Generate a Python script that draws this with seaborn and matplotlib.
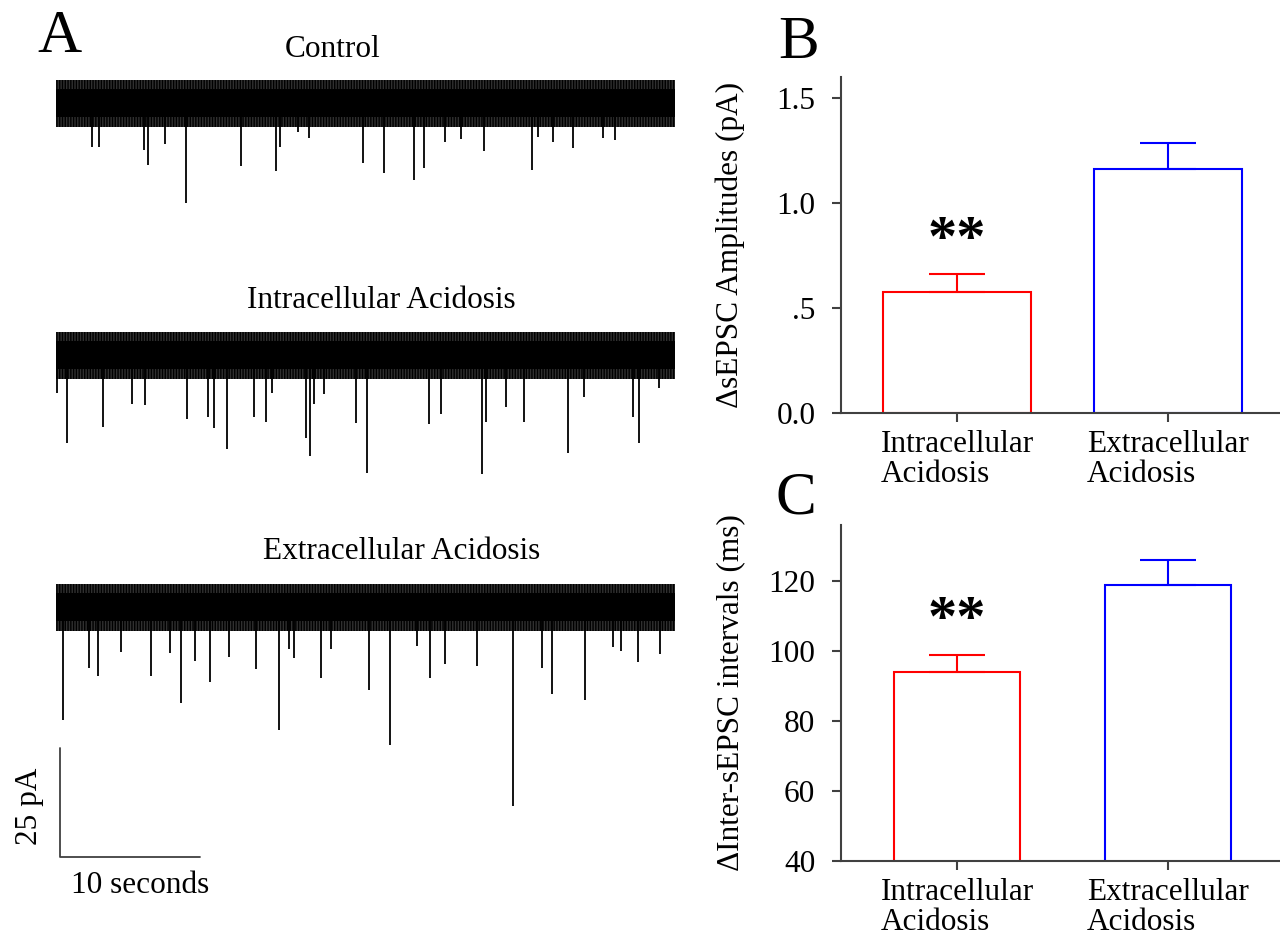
import numpy as np
import pandas as pd
import matplotlib
matplotlib.use('Agg')
import matplotlib.pyplot as plt
import seaborn as sns

# ==============================================================================
# DATA
# ==============================================================================
groups = ['Intracellular\nAcidosis', 'Extracellular\nAcidosis']
bar_colors = ['#ff0000', '#0000ff']

# B: change in sEPSC amplitude (pA), mean and SEM
amp_mean = [0.576, 1.162]
amp_sem = [0.086, 0.124]
amp_ticks = [0.0, 0.5, 1.0, 1.5]
amp_ticklabels = ['0.0', '.5', '1.0', '1.5']

# C: change in inter-sEPSC interval (ms), mean and SEM
ivl_mean = [94.0, 119.0]
ivl_sem = [5.0, 7.0]
ivl_ticks = [40, 60, 80, 100, 120]

# A: sEPSC events in each trace -> time from trace start (s), depth below baseline (pA)
ctrl_times = [2.57, 3.07, 6.29, 6.57, 7.79, 9.29, 13.2, 15.7, 16.0, 17.3, 18.1, 21.9,
              23.4, 25.6, 26.3, 27.8, 28.9, 30.6, 34.0, 34.4, 35.5, 36.9, 39.1, 39.9]
ctrl_depth = [10.1, 10.1, 10.8, 14.2, 9.4, 22.9, 14.4, 15.6, 10.1, 6.7, 8.0, 13.8,
              16.1, 17.7, 14.9, 8.9, 8.3, 11.0, 15.4, 7.8, 8.9, 10.3, 8.0, 8.5]

intra_times = [0.07, 0.79, 3.36, 5.43, 6.36, 9.36, 10.86, 11.29, 12.21, 14.14, 15.0,
               15.43, 17.86, 18.14, 18.43, 19.14, 21.43, 22.21, 26.64, 27.5, 30.43,
               30.71, 32.14, 33.43, 36.57, 37.71, 41.21, 41.64, 43.07]
intra_depth = [8.7, 20.2, 16.5, 11.2, 11.5, 14.7, 14.2, 16.7, 21.6, 14.2, 15.4,
               8.7, 19.0, 23.2, 11.2, 8.9, 15.6, 27.1, 15.8, 13.5, 27.3,
               15.4, 11.9, 15.4, 22.5, 9.6, 14.2, 20.2, 7.6]

extra_times = [0.5, 2.36, 3.0, 4.64, 6.79, 8.14, 8.93, 9.93, 11.0, 12.36, 14.29, 15.93,
               16.64, 17.0, 18.93, 19.64, 22.36, 23.86, 25.79, 26.71, 27.79, 30.07,
               32.64, 34.71, 35.43, 37.79, 39.79, 40.36, 41.57, 43.14]
extra_depth = [25.9, 14.0, 15.8, 10.3, 15.8, 10.6, 22.0, 12.4, 17.2, 11.5, 14.2, 28.2,
               9.6, 11.7, 16.3, 9.6, 19.0, 31.7, 8.9, 16.3, 13.1, 13.5,
               45.6, 14.0, 20.0, 21.3, 9.2, 10.1, 12.6, 10.8]

trace_titles = ['Control', 'Intracellular Acidosis', 'Extracellular Acidosis']
scale_pA = 25
scale_s = 10

# ==============================================================================
# FIGURE
# ==============================================================================
sns.set_style('ticks')
plt.rcParams['font.family'] = ['Liberation Serif', 'DejaVu Serif']
plt.rcParams['hatch.linewidth'] = 1.0
plt.rcParams['text.color'] = 'black'
plt.rcParams['axes.labelcolor'] = 'black'
plt.rcParams['xtick.labelcolor'] = 'black'
plt.rcParams['ytick.labelcolor'] = 'black'

W, H = 1280, 939
fig = plt.figure(figsize=(W / 100, H / 100), dpi=100)
fx = lambda px: px / W
fy = lambda py: 1 - py / H

TXT = 22.5
AXC = '#404040'

# --- Panel A: traces (x in seconds, y in pA) ---
px_per_s = 14.0
px_per_pA = 4.36
ax_a = fig.add_axes([0, 0, 700 / W, 1])
ax_a.set_xlim(0, 700 / px_per_s)
ax_a.set_ylim(0, H / px_per_pA)
ax_a.axis('off')

trace_start = 4.0
trace_len = 44.2
baselines = [(H - 103) / px_per_pA, (H - 355) / px_per_pA, (H - 607) / px_per_pA]
traces = [(ctrl_times, ctrl_depth), (intra_times, intra_depth), (extra_times, extra_depth)]
title_pos = [(333, 57), (381, 308), (402, 559)]

for base, (times, depths), title, (tx, ty) in zip(baselines, traces, trace_titles, title_pos):
    t0, t1 = trace_start, trace_start + trace_len
    # noise band: fuzzy outer envelope + solid core
    ax_a.fill_between([t0, t1], base - 5.4, base + 5.3, facecolor='#303030',
                      edgecolor='black', hatch='||||||', lw=0)
    ax_a.fill_between([t0, t1], base - 3.2, base + 3.2, color='black', lw=0)
    ax_a.vlines(t0 + np.asarray(times), base - np.asarray(depths), base,
                color='black', lw=1.3)
    fig.text(fx(tx), fy(ty), title, ha='center', va='baseline', fontsize=TXT)

# scale bar
sb_x = 60 / px_per_s
sb_y = (H - 857) / px_per_pA
ax_a.plot([sb_x, sb_x, sb_x + scale_s], [sb_y + scale_pA, sb_y, sb_y], color=AXC, lw=1.3)
fig.text(fx(30), fy(806), f'{scale_pA} pA', rotation=90, ha='center', va='center', fontsize=TXT)
fig.text(fx(140), fy(893), f'{scale_s} seconds', ha='center', va='baseline', fontsize=TXT)

# panel letters
fig.text(fx(37), fy(52), 'A', ha='left', va='baseline', fontsize=44)
fig.text(fx(778), fy(58), 'B', ha='left', va='baseline', fontsize=44)
fig.text(fx(775), fy(513), 'C', ha='left', va='baseline', fontsize=44)


def bar_panel(ax, means, sems, width, ylim, ticks, ticklabels, ylabel, star_y):
    df = pd.DataFrame({'group': groups, 'value': means})
    sns.barplot(data=df, x='group', y='value', hue='group', palette=bar_colors,
                fill=False, width=width, linewidth=1.5, errorbar=None,
                legend=False, ax=ax)
    for i, (m, s, c) in enumerate(zip(means, sems, bar_colors)):
        ax.errorbar(i, m, yerr=[[0], [s]], fmt='none', ecolor=c,
                    elinewidth=1.5, capsize=20.5, capthick=1.5)
    ax.text(0, star_y, '**', ha='center', va='center', fontsize=42, fontweight='bold')
    ax.set_xlim(-0.55, 1.53)
    ax.set_ylim(*ylim)
    ax.set_yticks(ticks)
    ax.set_yticklabels(ticklabels)
    ax.set_xlabel('')
    ax.set_ylabel(ylabel, fontsize=TXT)
    ax.yaxis.set_label_coords((745 - 841) / 439, 0.5)
    for side in ['top', 'right']:
        ax.spines[side].set_visible(False)
    for side in ['left', 'bottom']:
        ax.spines[side].set_color(AXC)
        ax.spines[side].set_linewidth(1.5)
    ax.tick_params(axis='both', direction='out', length=6.5, width=1.5, color=AXC,
                   labelsize=TXT, labelcolor='black')
    ax.tick_params(axis='y', pad=12)
    ax.tick_params(axis='x', pad=6)
    for lbl in ax.get_xticklabels():
        lbl.set_multialignment('left')
        lbl.set_linespacing(1.02)


ax_b = fig.add_axes([fx(841), fy(413), 439 / W, 336 / H])
bar_panel(ax_b, amp_mean, amp_sem, 0.7, (0, 1.6), amp_ticks, amp_ticklabels,
          '\u0394sEPSC Amplitudes (pA)', 0.82)

ax_c = fig.add_axes([fx(841), fy(861), 439 / W, 336 / H])
bar_panel(ax_c, ivl_mean, ivl_sem, 0.6, (40, 136), ivl_ticks, [str(t) for t in ivl_ticks],
          '\u0394Inter-sEPSC intervals (ms)', 108.5)

plt.savefig('out.png', dpi=100)
plt.close()
